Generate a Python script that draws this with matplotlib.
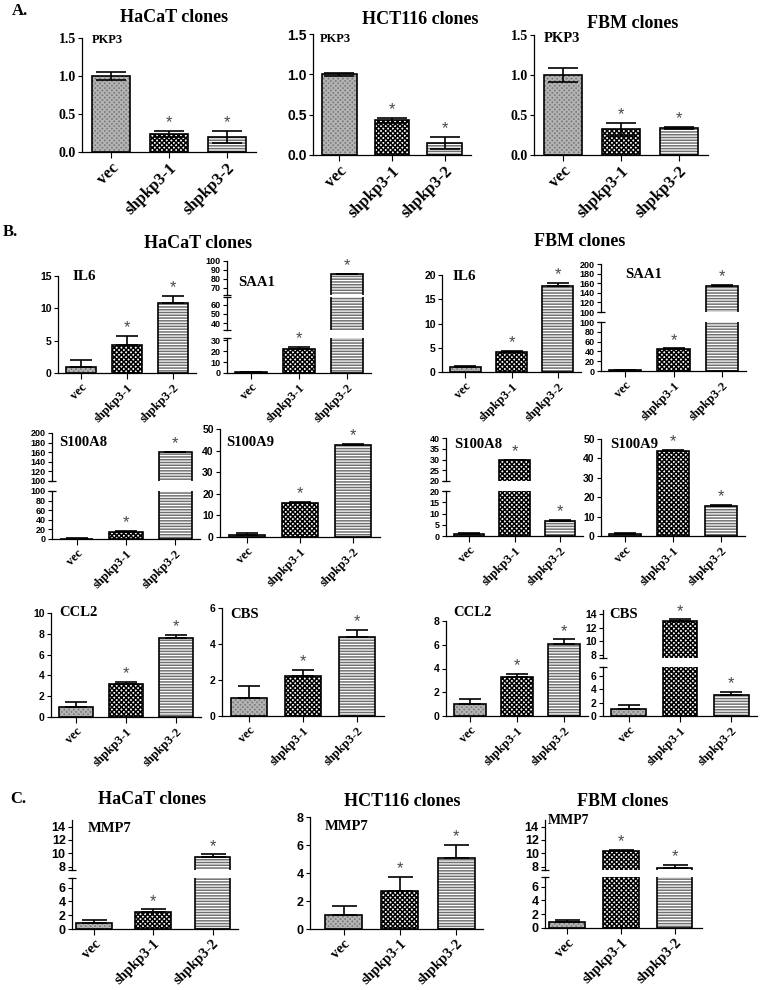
import numpy as np
import matplotlib.pyplot as plt
from matplotlib.transforms import ScaledTranslation

W, H = 760, 990
SERIF = "Liberation Serif"
SANS = "Liberation Sans"
plt.rcParams["hatch.linewidth"] = 1.1

# ── Dados ─────────────────────────────────────────────────────
groups = ["vec", "shpkp3-1", "shpkp3-2"]
stars = [False, True, True]

# A. PKP3
pkp3_hacat = [1.00, 0.24, 0.20]
pkp3_hacat_err = [0.05, 0.04, 0.08]
pkp3_hct116 = [1.00, 0.43, 0.15]
pkp3_hct116_err = [0.02, 0.03, 0.07]
pkp3_fbm = [1.00, 0.32, 0.34]
pkp3_fbm_err = [0.09, 0.08, 0.01]

# B. HaCaT
il6_hacat = [0.9, 4.3, 10.9]
il6_hacat_err = [1.1, 1.4, 1.05]
saa1_hacat = [0.8, 22.0, 85.0]
saa1_hacat_err = [0.5, 2.0, 0.8]
s100a8_hacat = [0.8, 15.0, 160.0]
s100a8_hacat_err = [0.3, 2.0, 1.0]
s100a9_hacat = [1.0, 15.8, 42.7]
s100a9_hacat_err = [0.7, 0.6, 0.3]
ccl2_hacat = [1.0, 3.2, 7.6]
ccl2_hacat_err = [0.4, 0.2, 0.3]
cbs_hacat = [1.0, 2.2, 4.4]
cbs_hacat_err = [0.65, 0.35, 0.4]

# B. FBM
il6_fbm = [1.0, 4.1, 17.8]
il6_fbm_err = [0.2, 0.2, 0.6]
saa1_fbm = [1.5, 44.0, 155.0]
saa1_fbm_err = [0.5, 2.0, 2.0]
s100a8_fbm = [0.9, 29.7, 6.8]
s100a8_fbm_err = [0.6, 0.3, 0.4]
s100a9_fbm = [1.0, 43.8, 15.5]
s100a9_fbm_err = [0.5, 0.4, 0.4]
ccl2_fbm = [1.0, 3.25, 6.1]
ccl2_fbm_err = [0.4, 0.3, 0.35]
cbs_fbm = [1.0, 13.0, 3.2]
cbs_fbm_err = [0.7, 0.2, 0.35]

# C. MMP7
mmp7_hacat = [0.93, 2.5, 9.5]
mmp7_hacat_err = [0.35, 0.35, 0.35]
mmp7_hct116 = [1.0, 2.7, 5.05]
mmp7_hct116_err = [0.65, 1.0, 0.95]
mmp7_fbm = [0.9, 10.3, 7.8]
mmp7_fbm_err = [0.3, 0.2, 0.45]

# ── Estilo das barras ─────────────────────────────────────────
FACE = ["#7c7c7c", "white", "white"]
HATCH_COLOR = ["#b4b4b4", "black", "#707070"]
HATCH = ["xxxxxxx", "xxxxxxx", "------"]

fig = plt.figure(figsize=(W / 100, H / 100), dpi=100)


def ftext(x, y, s, size, ha="left", family=SERIF):
    fig.text(x / W, 1 - y / H, s, fontsize=size, fontweight="bold",
             family=family, ha=ha, va="center")


def panel(xl, xr, segs, vals, errs, xlim=(-0.5, 2.5), width=0.67,
          both=False, capsize=8, xfs=9, yfs=7.5, yfam=SANS, yfmt="{:g}"):
    x = np.arange(len(vals))
    vals = np.array(vals)
    errs = np.array(errs)
    n = len(segs)
    for k, (ylo, yhi, ptop, pbot, ticks) in enumerate(segs):
        ax = fig.add_axes([xl / W, 1 - pbot / H, (xr - xl) / W, (pbot - ptop) / H])
        for i in range(len(vals)):
            ax.bar(x[i], vals[i], width, color=FACE[i], edgecolor=HATCH_COLOR[i],
                   hatch=HATCH[i], linewidth=0, zorder=2)
            ax.bar(x[i], vals[i], width, fill=False, edgecolor="black",
                   linewidth=1.2, zorder=3)
        lower = errs if both else np.zeros_like(errs)
        ax.errorbar(x, vals, yerr=[lower, errs], fmt="none", ecolor="black",
                    elinewidth=1.2, capsize=capsize, capthick=1.2, zorder=4)
        for i in range(len(vals)):
            top = vals[i] + errs[i]
            if stars[i] and ylo <= top <= yhi:
                ax.annotate("*", xy=(x[i], top), xytext=(0, 0.5),
                            textcoords="offset points", ha="center", va="bottom",
                            fontsize=12, color="#4a4a4a", family=SANS)
        ax.set_xlim(*xlim)
        ax.set_ylim(ylo, yhi)
        ax.set_yticks(ticks, labels=[yfmt.format(t) for t in ticks],
                      fontsize=yfs, fontweight="bold", family=yfam)
        # duas etiquetas iguais na quebra: afasta um pouco
        lbls = ax.get_yticklabels()
        if n > 1 and k > 0:
            lbls[-1].set_transform(lbls[-1].get_transform() +
                                   ScaledTranslation(0, -1.2 / 72, fig.dpi_scale_trans))
        if n > 1 and k < n - 1:
            lbls[0].set_transform(lbls[0].get_transform() +
                                  ScaledTranslation(0, 1.2 / 72, fig.dpi_scale_trans))
        ax.tick_params(axis="y", length=3, width=0.8, pad=1.5)
        for s in ["top", "right"]:
            ax.spines[s].set_visible(False)
        ax.spines["left"].set_linewidth(0.9)
        ax.spines["bottom"].set_linewidth(0.9)
        ax.patch.set_alpha(0)
        if k == n - 1:
            ax.set_xticks(x, labels=groups, rotation=45, ha="right",
                          rotation_mode="anchor", fontsize=xfs,
                          fontweight="bold", family=SERIF)
            ax.tick_params(axis="x", length=4, width=0.8, pad=2)
        else:
            ax.set_xticks([])
            ax.spines["bottom"].set_visible(False)
            ax.plot([0], [0], transform=ax.transAxes, marker="_", ms=6,
                    mew=0.9, color="black", clip_on=False)
        if k > 0:
            ax.plot([0], [1], transform=ax.transAxes, marker="_", ms=6,
                    mew=0.9, color="black", clip_on=False)


# ── A. PKP3 ───────────────────────────────────────────────────
ftext(12, 11, "A.", 12)
ftext(174, 18, "HaCaT clones", 13, ha="center")
ftext(420, 20, "HCT116 clones", 13, ha="center")
ftext(633, 23, "FBM clones", 13, ha="center")
kwA = dict(width=0.66, both=True, capsize=11, xfs=12, yfs=10, yfmt="{:.1f}")
panel(82, 256, [(0, 1.5, 38, 152, [0, 0.5, 1.0, 1.5])],
      pkp3_hacat, pkp3_hacat_err, yfam=SERIF, **kwA)
panel(313, 471, [(0, 1.5, 34, 155, [0, 0.5, 1.0, 1.5])],
      pkp3_hct116, pkp3_hct116_err, yfam=SANS, **kwA)
panel(534, 708, [(0, 1.5, 35, 155, [0, 0.5, 1.0, 1.5])],
      pkp3_fbm, pkp3_fbm_err, yfam=SERIF, **kwA)
ftext(92, 40, "PKP3", 9)
ftext(320, 39, "PKP3", 9)
ftext(544, 39, "PKP3", 10.5)

# ── B. HaCaT / FBM ────────────────────────────────────────────
ftext(3, 232, "B.", 12)
ftext(198, 243, "HaCaT clones", 13, ha="center")
ftext(580, 242, "FBM clones", 13, ha="center")

panel(58, 196, [(0, 15, 276, 373, [0, 5, 10, 15])], il6_hacat, il6_hacat_err)
panel(227, 371, [(62, 100, 261, 295, [70, 80, 90, 100]),
                 (33, 68, 297, 330, [40, 50, 60]),
                 (0, 32, 338, 373, [0, 10, 20, 30])], saa1_hacat, saa1_hacat_err,
      yfs=6.5)
panel(442, 581, [(0, 20, 275, 372, [0, 5, 10, 15, 20])], il6_fbm, il6_fbm_err)
panel(601, 746, [(100, 200, 264, 312, list(range(100, 201, 20))),
                 (0, 100, 322, 371, list(range(0, 101, 20)))], saa1_fbm, saa1_fbm_err,
      yfs=6.5)

panel(52, 200, [(100, 200, 433, 481, list(range(100, 201, 20))),
                (0, 100, 491, 539, list(range(0, 101, 20)))], s100a8_hacat, s100a8_hacat_err,
      yfs=6.5)
panel(220, 380, [(0, 50, 429, 537, list(range(0, 51, 10)))], s100a9_hacat, s100a9_hacat_err)
panel(446, 583, [(20, 40, 438, 481, [20, 25, 30, 35, 40]),
                 (0, 20, 491, 536, [0, 5, 10, 15, 20])], s100a8_fbm, s100a8_fbm_err,
      yfs=6.5)
panel(601, 745, [(0, 50, 439, 536, list(range(0, 51, 10)))], s100a9_fbm, s100a9_fbm_err)

panel(51, 201, [(0, 10, 613, 717, [0, 2, 4, 6, 8, 10])], ccl2_hacat, ccl2_hacat_err)
panel(222, 384, [(0, 6, 608, 716, [0, 2, 4, 6])], cbs_hacat, cbs_hacat_err)
panel(446, 588, [(0, 8, 621, 716, [0, 2, 4, 6, 8])], ccl2_fbm, ccl2_fbm_err)
panel(603, 757, [(7.5, 14.6, 610, 658, [8, 10, 12, 14]),
                 (0, 7.3, 667, 716, [0, 2, 4, 6])], cbs_fbm, cbs_fbm_err)

ftext(73, 277, "IL6", 11)
ftext(238, 282, "SAA1", 10.5)
ftext(453, 277, "IL6", 11)
ftext(625, 275, "SAA1", 10.5)
ftext(59, 442, "S100A8", 10.5)
ftext(226, 442, "S100A9", 10.5)
ftext(454, 444, "S100A8", 10.5)
ftext(610, 444, "S100A9", 10.5)
ftext(59, 613, "CCL2", 10.5)
ftext(230, 614, "CBS", 10.5)
ftext(453, 613, "CCL2", 10.5)
ftext(609, 615, "CBS", 10.5)

# ── C. MMP7 ───────────────────────────────────────────────────
ftext(10, 799, "C.", 12)
ftext(152, 800, "HaCaT clones", 13, ha="center")
ftext(402, 802, "HCT116 clones", 13, ha="center")
ftext(623, 801, "FBM clones", 13, ha="center")
kwC = dict(capsize=9, xfs=10.5, yfs=9)
panel(72, 238, [(7.5, 15, 820, 870, [8, 10, 12, 14]),
                (0, 7.4, 878, 929, [0, 2, 4, 6])],
      mmp7_hacat, mmp7_hacat_err, xlim=(-0.37, 2.43), width=0.6, **kwC)
panel(310, 483, [(0, 8, 817, 929, [0, 2, 4, 6, 8])],
      mmp7_hct116, mmp7_hct116_err, xlim=(-0.6, 2.48), width=0.66, **kwC)
panel(545, 702, [(7.5, 15, 820, 870, [8, 10, 12, 14]),
                 (0, 7.4, 877, 928, [0, 2, 4, 6])],
      mmp7_fbm, mmp7_fbm_err, xlim=(-0.41, 2.51), width=0.66, **kwC)
ftext(88, 828, "MMP7", 10.5)
ftext(325, 827, "MMP7", 10.5)
ftext(548, 820, "MMP7", 10)

fig.savefig("out.png", dpi=100)
